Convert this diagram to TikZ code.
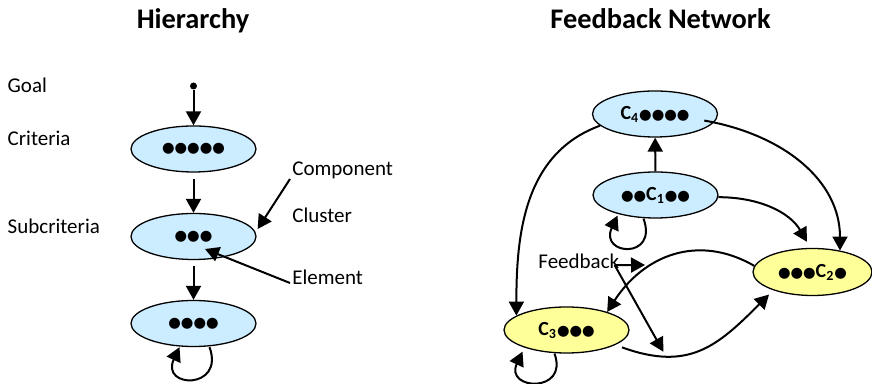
\documentclass[tikz,border=0pt]{standalone}
\usepackage{fontspec}
\setmainfont{Carlito}
\newfontfamily\dotfont{DejaVu Sans}
\usetikzlibrary{shapes.geometric,arrows.meta}
\definecolor{clusblue}{HTML}{CCECFF}
\definecolor{clusyellow}{HTML}{FFFF99}
\newcommand{\cname}[1]{{\rmfamily\fontsize{10}{12}\selectfont\bfseries C\textsubscript{#1}}}

\begin{document}
\begin{tikzpicture}[x=0.5pt,y=0.5pt,
  clus/.style={ellipse,draw,line width=0.65pt,minimum width=62.5pt,minimum height=23pt,inner sep=0pt,font=\dotfont\fontsize{7.2}{9}\selectfont},
  arr/.style={-{Triangle[length=7pt,width=7.5pt]},line width=1pt},
  lbl/.style={anchor=base west,inner sep=0pt,font=\fontsize{10.5}{12}\selectfont},
  ttl/.style={anchor=base,inner sep=0pt,font=\fontsize{14.2}{16}\selectfont\bfseries}]
\useasboundingbox (0,0) rectangle (872,384);

% hierarchy
\node[ttl] (hiertitle) at (193,355) {Hierarchy};
\node[lbl] (goallbl) at (7.3,291.3) {Goal};
\node[lbl] (critlbl) at (7.3,238.3) {Criteria};
\node[lbl] (sublbl) at (7.3,150.7) {Subcriteria};

\node[circle,fill,inner sep=0pt,minimum size=3.5pt] (goal) at (193.5,298) {};
\node[clus,fill=clusblue] (crit) at (193.5,235) {●●●●●};
\node[clus,fill=clusblue] (sub) at (193.5,147.5) {●●●};
\node[clus,fill=clusblue] (alt) at (193.5,60.5) {●●●●};

\draw[arr] (goal) -- (crit);
\draw[arr,shorten <=3pt] (crit) -- (sub);
\draw[arr,shorten <=3pt] (sub) -- (alt);
\draw[arr] ([xshift=8pt]alt.south) to[out=-70,in=-115,looseness=3.9] ([xshift=-7pt]alt.south);

\node[lbl] (comp) at (292,208) {Component};
\node[lbl] (clst) at (292,161.3) {Cluster};
\node[lbl] (elem) at (292,99) {Element};
\draw[arr] ([shift={(-1pt,-1.5pt)}]comp.base west) -- ([shift={(0.5pt,3.75pt)}]sub.east);
\draw[arr] ([shift={(-1pt,1pt)}]elem.base west) -- ([shift={(5.75pt,-6.25pt)}]sub.center);

% feedback network
\node[ttl] (nettitle) at (660.5,355.7) {Feedback Network};
\node[clus,fill=clusblue] (C4) at (655,270) {\cname{4}●●●●};
\node[clus,fill=clusblue] (C1) at (655.5,189) {●●\cname{1}●●};
\node[clus,fill=clusyellow,minimum width=59.5pt,minimum height=23.5pt] (C2) at (812.5,112) {●●●\cname{2}●};
\node[clus,fill=clusyellow] (C3) at (566.5,54) {\cname{3}●●●};

\draw[arr] (C1) -- (C4);
\draw[arr] (C4.192) to[out=200,in=90] (C3.164);
\draw[arr,shorten <=-5pt] (C4.-8) to[out=-10,in=90] (C2.38);
\draw[arr,shorten >=3.5pt] (C1.-2) to[out=0,in=120] (C2.95);
\draw[arr] (C2.174) to[out=150,in=57,looseness=1.1] (C3.24);
\draw[arr,shorten <=3.5pt,shorten >=3pt] (C3.-17) to[out=-20,in=225,looseness=1.2] (C2.205);
\draw[arr] ([xshift=-6pt]C1.south) to[out=-70,in=-115,looseness=4.3] ([shift={(-19pt,1.5pt)}]C1.south);
\draw[arr] ([xshift=-6pt]C3.south) to[out=-70,in=-115,looseness=3.4] ([shift={(-22pt,1pt)}]C3.south);

\node[lbl] (fb) at (538,115.7) {Feedback};
\coordinate (fbS) at ([shift={(-2.5pt,1.6pt)}]fb.base east);
\coordinate (fbH) at (645,119);
\coordinate (fbD) at (663.3,32.3);
\draw[arr] (fbS) -- (fbH);
\draw[arr] (fbS) -- (fbD);
\end{tikzpicture}
\end{document}
